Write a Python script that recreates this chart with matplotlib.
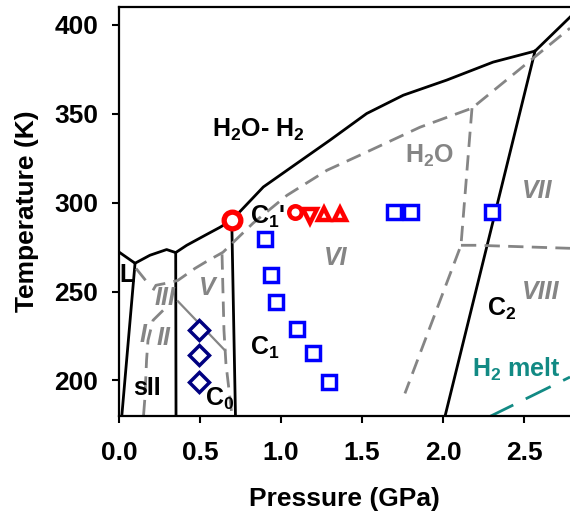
import numpy as np
import matplotlib
matplotlib.use("Agg")
import matplotlib.pyplot as plt

plt.rcParams["font.family"] = ["Liberation Sans", "DejaVu Sans"]
plt.rcParams["font.weight"] = "bold"
plt.rcParams["axes.labelweight"] = "bold"
plt.rcParams["mathtext.fontset"] = "custom"
plt.rcParams["mathtext.rm"] = "Liberation Sans:bold"
plt.rcParams["mathtext.it"] = "Liberation Sans:bold:italic"
plt.rcParams["mathtext.bf"] = "Liberation Sans:bold"
plt.rcParams["mathtext.default"] = "rm"

# H2O-H2 boundaries (black, solid)
upper_p = [0.0, 0.099, 0.191, 0.294, 0.35, 0.418, 0.531, 0.623, 0.696, 0.891,
           1.097, 1.302, 1.529, 1.755, 2.023, 2.309, 2.568, 2.784]
upper_t = [272.2, 265.9, 270.4, 273.6, 271.9, 276.0, 281.6, 286.1, 290.1, 308.8,
           322.0, 335.1, 350.1, 360.4, 368.9, 379.0, 385.2, 404.3]
sii_left_p = [0.099, 0.017]
sii_left_t = [265.9, 179.7]
sii_right_p = [0.35, 0.352]
sii_right_t = [271.9, 179.7]
c0_c1_p = [0.696, 0.719]
c0_c1_t = [290.1, 179.7]
c2_p = [2.012, 2.568]
c2_t = [179.7, 385.2]

# pure water phase diagram (grey, dashed)
melt_p = [0.210, 0.228, 0.321, 0.364, 0.469, 0.531, 0.642, 0.827, 1.037, 1.284,
          1.488, 1.858, 2.179, 2.784]
melt_t = [250.7, 253.5, 255.2, 256.3, 263.0, 266.4, 272.1, 288.4, 304.1, 318.2,
          326.7, 342.4, 353.1, 398.1]
ih_iii_p = [0.105, 0.179]
ih_iii_t = [263.0, 254.6]
v_vi_p = [0.636, 0.648, 0.660, 0.698]
v_vi_t = [270.9, 228.1, 209.6, 179.7]
ii_p = [0.272, 0.210, 0.179, 0.170, 0.160, 0.151]
ii_t = [239.4, 233.8, 222.5, 211.3, 190.4, 179.7]
ii_v_p = [0.364, 0.654]
ii_v_t = [244.5, 216.9]
vi_vii_p = [2.179, 2.111, 1.765]
vi_vii_t = [353.1, 276.0, 192.7]
vii_viii_p = [2.111, 2.21, 2.784]
vii_viii_t = [276.0, 276.0, 274.3]

# H2 melting line
h2_p = [2.28, 2.784]
h2_t = [179.3, 201.9]

# experimental points
circ_big = (0.696, 290.1)
circ_small = (1.086, 294.6)
tri_down = (1.179, 292.7)
tri_up_p = [1.267, 1.364]
tri_up_t = [293.7, 293.7]
sq_p = [0.901, 0.938, 0.969, 1.097, 1.199, 1.298, 1.70, 1.802, 2.30]
sq_t = [279.6, 259.3, 244.2, 229.2, 215.3, 199.2, 294.6, 294.6, 294.6]
dia_p = [0.496, 0.496, 0.496]
dia_t = [228.3, 214.4, 199.2]

GREY = "#858585"
TEAL = "#128a84"

fig = plt.figure(figsize=(5.7, 5.17), dpi=100)
ax = fig.add_axes([119 / 570, 101 / 517, 451 / 570, 409 / 517])

blk = dict(color="black", lw=2.0, solid_joinstyle="round")
for px, ty in [(upper_p, upper_t), (sii_left_p, sii_left_t), (sii_right_p, sii_right_t),
               (c0_c1_p, c0_c1_t), (c2_p, c2_t)]:
    ax.plot(px, ty, **blk)

dash = dict(color=GREY, lw=2.0, dashes=(5.5, 3))
for px, ty in [(melt_p, melt_t), (ih_iii_p, ih_iii_t), (v_vi_p, v_vi_t), (ii_p, ii_t),
               (vi_vii_p, vi_vii_t), (vii_viii_p, vii_viii_t)]:
    ax.plot(px, ty, **dash)
ax.plot(ii_v_p, ii_v_t, color=GREY, lw=1.6)
ax.plot(h2_p, h2_t, color=TEAL, lw=2.0, dashes=(10, 5))

ax.plot(*circ_big, "o", mfc="white", mec="red", ms=12, mew=3.8)
ax.plot(*circ_small, "o", mfc="white", mec="red", ms=9, mew=3.2)
ax.plot(*tri_down, "v", mfc="white", mec="red", ms=10, mew=3.2)
ax.plot(tri_up_p, tri_up_t, "^", ls="none", mfc="white", mec="red", ms=9, mew=3.2)
ax.plot(sq_p, sq_t, "s", ls="none", mfc="white", mec="blue", ms=10, mew=2.5)
ax.plot(dia_p, dia_t, "D", ls="none", mfc="white", mec="#000080", ms=10, mew=2.5)

fs = 18
ax.text(0.858, 340.7, "H$_2$O- H$_2$", fontsize=fs, ha="center", va="center")
ax.text(1.92, 326.2, "H$_2$O", fontsize=fs, ha="center", va="center", color=GREY)
ax.text(0.809, 292.0, "C$_1$'", fontsize=fs, ha="left", va="center")
ax.text(0.809, 218.5, "C$_1$", fontsize=fs, ha="left", va="center")
ax.text(0.531, 189.5, "C$_0$", fontsize=fs, ha="left", va="center")
ax.text(2.272, 240.0, "C$_2$", fontsize=fs, ha="left", va="center")
ax.text(2.179, 206.0, "H$_2$ melt", fontsize=fs, ha="left", va="center", color=TEAL)
ax.text(0.173, 195.5, "sII", fontsize=fs, ha="center", va="center")
ax.text(0.049, 259.1, "L", fontsize=fs, ha="center", va="center")

gi = dict(fontsize=fs, ha="center", va="center", color=GREY, style="italic")
ax.text(1.34, 268.9, "VI", **gi)
ax.text(2.58, 306.3, "VII", **gi)
ax.text(2.605, 249.5, "VIII", **gi)
ax.text(0.543, 251.8, "V", **gi)
ax.text(0.284, 246.1, "III", **gi)
ax.text(0.148, 225.4, "I", **gi)
ax.text(0.278, 223.7, "II", **gi)

ax.set_xlim(0, 2.784)
ax.set_ylim(180, 410)
ax.set_xticks(np.arange(0, 2.6, 0.5))
ax.set_xticklabels([f"{v:.1f}" for v in np.arange(0, 2.6, 0.5)])
ax.set_yticks([200, 250, 300, 350, 400])
ax.tick_params(direction="out", length=5, width=1.5, labelsize=19)
ax.tick_params(axis="x", pad=13)
ax.tick_params(axis="y", pad=10)
for side in ["left", "bottom", "top"]:
    ax.spines[side].set_linewidth(1.6)
ax.spines["right"].set_visible(False)
ax.set_xlabel("Pressure (GPa)", fontsize=19, labelpad=16)
ax.set_ylabel("Temperature (K)", fontsize=19, labelpad=11)

plt.savefig("out.png", dpi=100)
plt.close()
